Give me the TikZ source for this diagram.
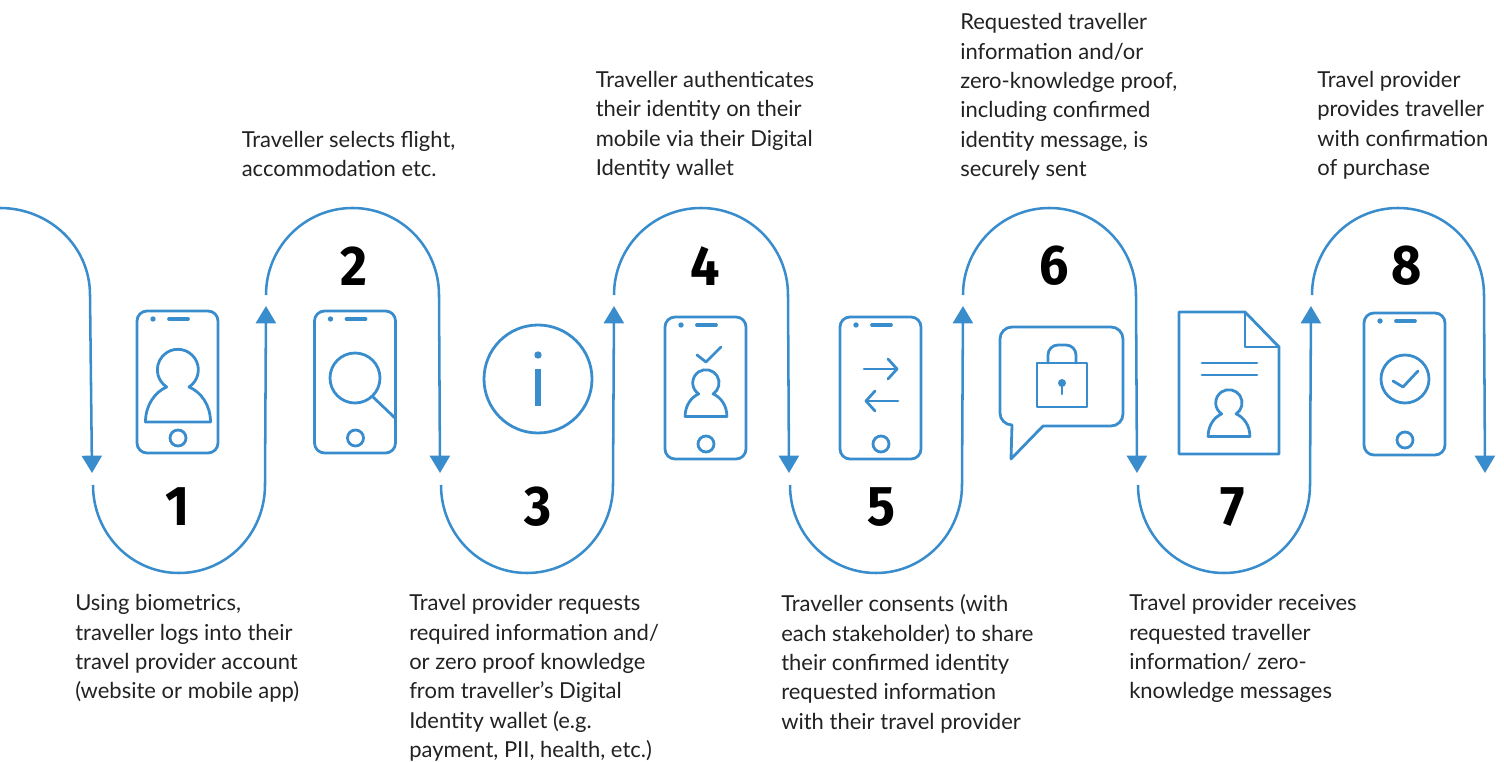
\documentclass[tikz,border=0pt]{standalone}
\usepackage{fontspec}
\setmainfont{Lato}
\newfontfamily\stepfont[FakeStretch=0.93]{Fira Sans}
\usetikzlibrary{arrows.meta}
\definecolor{flowblue}{HTML}{3A8DCC}
\definecolor{inktext}{HTML}{222222}
\tikzset{
  flow/.style={draw=flowblue, line width=1.9pt, -{Triangle[width=15pt,length=13pt]}},
  icon/.style={draw=flowblue, line width=2.1pt, line join=round, line cap=round},
  stepnum/.style={font=\stepfont\bfseries\fontsize{42}{42}\selectfont, text=black, inner sep=0pt},
  steptext/.style={font=\fontsize{16.5}{22}\selectfont, text=inktext, align=left, anchor=north west, inner sep=0pt},
  person/.pic={
    \draw[icon] (-32.5,-52) -- (32.5,-52) .. controls (32.5,-35) and (23,-22) .. (11,-17)
      arc[start angle=-57, end angle=237, radius=20.5]
      .. controls (-23,-22) and (-32.5,-35) .. (-32.5,-52) -- cycle;
  },
  phone/.pic={
    \draw[icon, rounded corners=7.5pt] (0,0) rectangle (81,-142);
    \fill[flowblue] (16,-8) circle[radius=2.7];
    \draw[icon, line width=2.8pt] (32,-8) -- (51,-8);
    \draw[icon] (41,-127) circle[radius=8];
  },
}
\begin{document}
\begin{tikzpicture}[x=0.75pt, y=0.75pt]
  \useasboundingbox (0,0) rectangle (1504,-762);

  \coordinate (start) at (0,-208);
  \coordinate (drop0) at (90,-295);
  \coordinate (tip0) at (92,-473);
  \draw[flow] (start) to[out=0, in=90] (drop0) -- (tip0);

  \foreach \n/\xa/\xb in {1/93/265, 3/441/613, 5/790/962, 7/1138/1310} {
    \coordinate (in\n) at (\xa,-485);
    \coordinate (low\n) at ({(\xa+\xb)/2},-573);
    \coordinate (out\n) at (\xb,-485);
    \coordinate (tip\n) at ({\xb+1},-306);
    \draw[flow] (in\n) to[out=-90, in=180] (low\n) to[out=0, in=-90] (out\n) -- (tip\n);
  }
  \foreach \n/\xa/\xb in {2/266/439, 4/614/788, 6/963/1136, 8/1312/1484} {
    \coordinate (in\n) at (\xa,-295);
    \coordinate (high\n) at ({(\xa+\xb)/2},-208);
    \coordinate (out\n) at (\xb,-295);
    \coordinate (tip\n) at ({\xb+1},-473);
    \draw[flow] (in\n) to[out=90, in=180] (high\n) to[out=0, in=90] (out\n) -- (tip\n);
  }

  \foreach \n/\xa/\ya in {1/178/-507, 2/354/-266, 3/538/-507, 4/705/-266, 5/881/-507, 6/1054/-266, 7/1233/-507, 8/1407/-266}
    \node[stepnum] (num\n) at (\xa,\ya) {\n};

  \pic (phoneA) at (137,-311) {phone};
  \pic[scale=1] (personA) at (178,-370) {person};

  \pic (phoneB) at (314.5,-311) {phone};
  \draw[icon] (355,-378) circle[radius=25];
  \draw[icon] (373,-397) -- (395,-418);

  \draw[icon] (538,-379) circle[radius=54];
  \fill[flowblue] (538,-355) circle[radius=3.7];
  \draw[draw=flowblue, line width=4pt] (538,-369) -- (538,-406);

  \pic (phoneC) at (665,-317) {phone};
  \draw[icon] (697,-355) -- (706,-362) -- (721,-347);
  \pic[scale=0.643] (personB) at (706,-383) {person};

  \pic (phoneD) at (840,-317) {phone};
  \draw[icon] (864,-369) -- (897,-369);
  \draw[icon] (888,-359) -- (897,-369) -- (888,-379);
  \draw[icon] (898,-401) -- (866,-401);
  \draw[icon] (875,-391) -- (866,-401) -- (875,-411);

  \draw[icon] (1011,-459) -- (1043,-426) -- (1111,-426)
    arc[start angle=-90, end angle=0, radius=12] -- (1123,-339)
    arc[start angle=0, end angle=90, radius=12] -- (1012,-327)
    arc[start angle=90, end angle=180, radius=12] -- (1000,-413)
    arc[start angle=180, end angle=270, radius=12] -- cycle;
  \draw[icon] (1037,-363) rectangle (1087,-407);
  \draw[icon] (1048,-363) -- (1048,-355) arc[start angle=180, end angle=90, radius=10]
    -- (1066,-345) arc[start angle=90, end angle=0, radius=10] -- (1076,-363);
  \fill[flowblue] (1062,-383) circle[radius=4];
  \draw[icon] (1062,-383) -- (1062,-394);

  \draw[icon] (1179,-312) -- (1245,-312) -- (1279,-347) -- (1279,-454) -- (1179,-454) -- cycle;
  \draw[icon] (1245,-312) -- (1245,-347) -- (1279,-347);
  \draw[icon] (1202,-363) -- (1257,-363);
  \draw[icon] (1202,-375) -- (1257,-375);
  \pic[scale=0.643] (personC) at (1229,-403) {person};

  \pic (phoneE) at (1364,-313) {phone};
  \draw[icon] (1405,-379) circle[radius=24];
  \draw[icon] (1393,-381) -- (1403,-387) -- (1418,-371);

  \node[steptext] (textA) at (75,-594.5) {Using biometrics,\\traveller logs into their\\travel provider account\\(website or mobile app)};
  \node[steptext] (textB) at (241.5,-131) {Traveller selects flight,\\accommodation etc.};
  \node[steptext] (textC) at (409,-594.5) {Travel provider requests\\required information and/\\or zero proof knowledge\\from traveller’s Digital\\Identity wallet (e.g.\\payment, PII, health, etc.)};
  \node[steptext] (textD) at (595.5,-71) {Traveller authenticates\\their identity on their\\mobile via their Digital\\Identity wallet};
  \node[steptext] (textE) at (781,-594.5) {Traveller consents (with\\each stakeholder) to share\\their confirmed identity\\requested information\\with their travel provider};
  \node[steptext] (textF) at (960,-13.5) {Requested traveller\\information and/or\\zero-knowledge proof,\\including confirmed\\identity message, is\\securely sent};
  \node[steptext] (textG) at (1129,-594.5) {Travel provider receives\\requested traveller\\information/ zero-\\knowledge messages};
  \node[steptext] (textH) at (1317,-71) {Travel provider\\provides traveller\\with confirmation\\of purchase};
\end{tikzpicture}
\end{document}
